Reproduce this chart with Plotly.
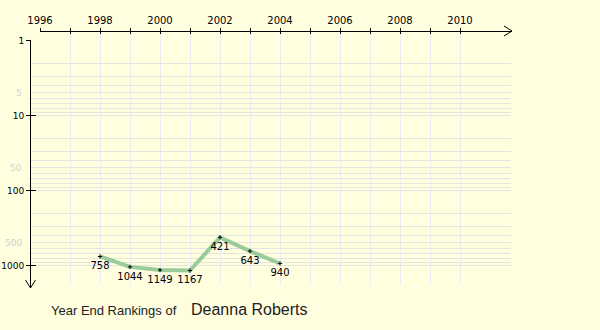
import math
import plotly.graph_objects as go

# ---- data ----
years = [1998, 1999, 2000, 2001, 2002, 2003, 2004]
rankings = [758, 1044, 1149, 1167, 421, 643, 940]
x_tick_years = list(range(1996, 2011))
x_tick_labels = [str(y) if y % 2 == 0 else "" for y in x_tick_years]
y_major_ticks = [1, 10, 100, 1000]
y_major_labels = ["1", "10", "100", "1000"]
y_minor_labels = [5, 50, 500]
grid_years = list(range(1997, 2011))
grid_ranks = [m * 10 ** e for e in range(3) for m in range(2, 11)]
title_text = "Year End Rankings of"
player = "Deanna Roberts"

# ---- geometry helpers ----
W, H = 600, 330
X0, DX = 40, 30      # pixel of 1996, pixels per year
Y0, DY = 40.5, 75    # pixel of rank 1, pixels per decade


def xr(p):
    return 1996 + (p - X0) / DX


def yr(p):
    return (p - Y0) / DY


def fx(p):
    return p / W


def fy(p):
    return 1 - p / H


BG = "#ffffe0"
FONT = "DejaVu Sans"

fig = go.Figure()

# grid subplot (drawn first -> below)
fig.add_trace(go.Scatter(x=[], y=[], xaxis="x", yaxis="y", showlegend=False))
# main data line + markers
fig.add_trace(go.Scatter(
    x=years, y=rankings, xaxis="x2", yaxis="y2",
    mode="lines+markers",
    line=dict(color="#99cc99", width=4),
    marker=dict(symbol="cross-thin", size=3, line=dict(color="black", width=1), color="black"),
    showlegend=False, hoverinfo="skip", cliponaxis=False,
))
# value labels
fig.add_trace(go.Scatter(
    x=years, y=rankings, xaxis="x2", yaxis="y2",
    mode="markers+text",
    text=[str(v) for v in rankings],
    textposition="bottom center",
    textfont=dict(family=FONT, size=10, color="black"),
    marker=dict(size=7, opacity=0),
    showlegend=False, hoverinfo="skip", cliponaxis=False,
))
# dummies for inside-tick overlay axes
fig.add_trace(go.Scatter(x=[], y=[], xaxis="x3", yaxis="y2", showlegend=False))
fig.add_trace(go.Scatter(x=[], y=[], xaxis="x2", yaxis="y3", showlegend=False))

x2_range = [xr(40), xr(512)]
y2_range = [yr(288), yr(40)]

annotations = []
for v in y_minor_labels:
    annotations.append(dict(
        x=fx(24), xref="paper", xanchor="right",
        y=math.log10(v), yref="y2", yanchor="middle",
        text=str(v), showarrow=False,
        font=dict(family=FONT, size=9, color="#cfcfcf"),
    ))
annotations.append(dict(
    x=fx(49), xref="paper", xanchor="left",
    y=fy(310), yref="paper", yanchor="middle",
    text=title_text, showarrow=False,
    font=dict(family="Liberation Sans", size=13, color="#222222"),
))
annotations.append(dict(
    x=fx(189), xref="paper", xanchor="left",
    y=fy(309), yref="paper", yanchor="middle",
    text=player, showarrow=False,
    font=dict(family="Liberation Sans", size=16, color="#222222"),
))


def path(pts):
    return "M " + " L ".join(f"{fx(a):.5f},{fy(b):.5f}" for a, b in pts)


shapes = [
    dict(type="path", xref="paper", yref="paper",
         path=path([(504, 26), (512, 31), (504, 36)]),
         line=dict(color="black", width=1)),
    dict(type="path", xref="paper", yref="paper",
         path=path([(25.5, 280), (30.5, 288), (35.5, 280)]),
         line=dict(color="black", width=1)),
]

fig.update_layout(
    width=W, height=H, autosize=False,
    margin=dict(l=0, r=0, t=0, b=0, pad=0, autoexpand=False),
    paper_bgcolor=BG, plot_bgcolor="rgba(0,0,0,0)",
    font=dict(family=FONT, size=10, color="black"),
    xaxis=dict(
        domain=[fx(30), fx(511)], range=[xr(30), xr(511)],
        tickvals=grid_years, showticklabels=False, ticks="",
        showgrid=True, gridcolor="#ececf4", gridwidth=1,
        zeroline=False, showline=False, anchor="y", automargin=False,
    ),
    yaxis=dict(
        domain=[fy(285), fy(33)], type="log", range=[yr(285), yr(33)],
        tickvals=grid_ranks, showticklabels=False, ticks="",
        showgrid=True, gridcolor="#e4e4e0", gridwidth=1,
        zeroline=False, showline=False, anchor="x", automargin=False,
    ),
    xaxis2=dict(
        domain=[fx(40), fx(512)], range=x2_range,
        anchor="free", position=fy(31), side="top",
        tickvals=x_tick_years, ticktext=x_tick_labels,
        ticks="outside", ticklen=3, tickcolor="black", tickwidth=1,
        tickfont=dict(family=FONT, size=10, color="black"),
        showline=True, linecolor="black", linewidth=1,
        showgrid=False, zeroline=False, automargin=False,
    ),
    yaxis2=dict(
        domain=[fy(288), fy(40)], type="log", range=y2_range,
        anchor="free", position=fx(30),
        tickvals=y_major_ticks, ticktext=y_major_labels,
        ticks="outside", ticklen=4, tickcolor="black", tickwidth=1,
        tickfont=dict(family=FONT, size=9, color="black"),
        showline=True, linecolor="black", linewidth=1,
        showgrid=False, zeroline=False, automargin=False,
    ),
    xaxis3=dict(
        overlaying="x2", range=x2_range,
        anchor="free", position=fy(31), side="top",
        tickvals=x_tick_years, showticklabels=False,
        ticks="inside", ticklen=2, tickcolor="black", tickwidth=1,
        showline=False, showgrid=False, zeroline=False, automargin=False,
    ),
    yaxis3=dict(
        overlaying="y2", type="log", range=y2_range,
        anchor="free", position=fx(30), side="left",
        tickvals=y_major_ticks, showticklabels=False,
        ticks="inside", ticklen=5, tickcolor="black", tickwidth=1,
        showline=False, showgrid=False, zeroline=False, automargin=False,
    ),
    annotations=annotations,
    shapes=shapes,
)

fig.write_html("out.html")
